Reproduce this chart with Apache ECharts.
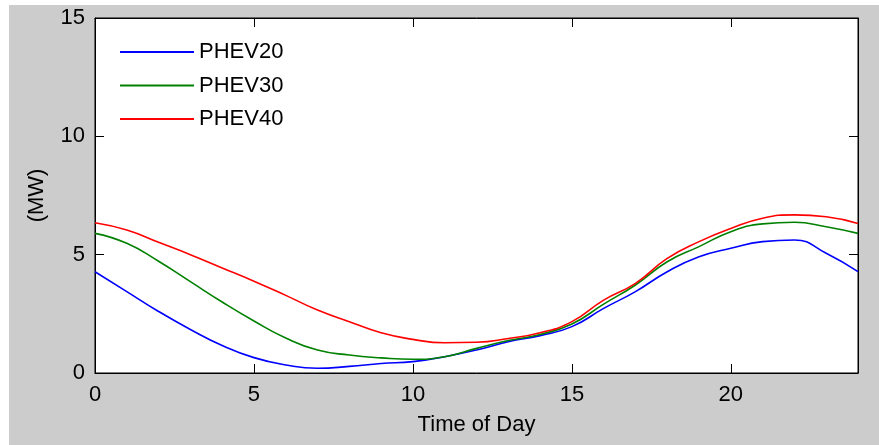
<!DOCTYPE html>
<html>
<head>
<meta charset="utf-8">
<script src="https://cdn.jsdelivr.net/npm/echarts@6/dist/echarts.min.js"></script>
<style>
html,body{margin:0;padding:0;background:#fff;width:879px;height:445px;overflow:hidden;}
#c{position:absolute;left:9px;top:5px;width:870px;height:440px;}
</style>
</head>
<body>
<div id="c"></div>
<script>
const hours = [0,1,2,3,4,5,6,7,8,9,10,11,12,13,14,15,16,17,18,19,20,21,22,23,24];
const phev20 = [4.28,3.44,2.6,1.84,1.16,0.65,0.34,0.2,0.28,0.4,0.48,0.69,0.97,1.32,1.58,1.96,2.73,3.44,4.28,4.91,5.27,5.55,5.62,5.06,4.28];
const phev30 = [5.90,5.48,4.72,3.86,3.0,2.2,1.48,0.97,0.76,0.64,0.58,0.69,1.04,1.37,1.63,2.07,2.91,3.72,4.7,5.34,5.97,6.3,6.37,6.18,5.90];
const phev40 = [6.35,6.04,5.52,5.0,4.44,3.88,3.28,2.66,2.17,1.7,1.42,1.28,1.3,1.46,1.7,2.17,3.08,3.79,4.84,5.55,6.11,6.54,6.68,6.6,6.32];
const seriesNames = ['PHEV20','PHEV30','PHEV40'];
const colors = ['#0000ff','#008000','#ff0000'];

const FONT = 'Liberation Sans, Arial, sans-serif';
const FS = 22;
const chart = echarts.init(document.getElementById('c'));
function pairs(arr){ return hours.map((h,i)=>[h,arr[i]]); }
function axis(extra){
  return Object.assign({
    type:'value',
    axisLine:{show:true, onZero:false, lineStyle:{color:'#000', width:1}},
    axisTick:{show:true, inside:true, length:9, lineStyle:{color:'#000', width:1}},
    splitLine:{show:false}
  }, extra);
}
chart.setOption({
  backgroundColor:'#cccccc',
  animation:false,
  grid:{left:86, top:13, right:21, bottom:72, show:true, backgroundColor:'#fff', borderColor:'#000', borderWidth:1},
  legend:{
    orient:'vertical', left:106, top:31, itemWidth:74, itemHeight:2, itemGap:11.5, icon:'rect',
    textStyle:{fontFamily:FONT, fontSize:FS, color:'#000'},
    data:seriesNames
  },
  xAxis:[
    axis({min:0, max:24, interval:5, position:'bottom',
      name:'Time of Day', nameLocation:'middle', nameGap:41,
      nameTextStyle:{fontFamily:FONT, fontSize:FS, color:'#000'},
      axisLabel:{fontFamily:FONT, fontSize:FS, color:'#000', margin:11,
        formatter:v => (v % 5 === 0 ? String(v) : '')}}),
    axis({min:0, max:24, interval:5, position:'top', axisLabel:{show:false}})
  ],
  yAxis:[
    axis({min:0, max:15, interval:5, position:'left',
      name:'(MW)', nameLocation:'middle', nameGap:47,
      nameTextStyle:{fontFamily:FONT, fontSize:FS, color:'#000'},
      axisLabel:{fontFamily:FONT, fontSize:FS, color:'#000', margin:10}}),
    axis({min:0, max:15, interval:5, position:'right', axisLabel:{show:false}})
  ],
  series:[phev20,phev30,phev40].map((d,i)=>({
    name:seriesNames[i], type:'line', data:pairs(d), smooth:0.5,
    symbol:'none', xAxisIndex:0, yAxisIndex:0,
    lineStyle:{color:colors[i], width:1.6}, itemStyle:{color:colors[i]}
  }))
});
</script>
</body>
</html>
